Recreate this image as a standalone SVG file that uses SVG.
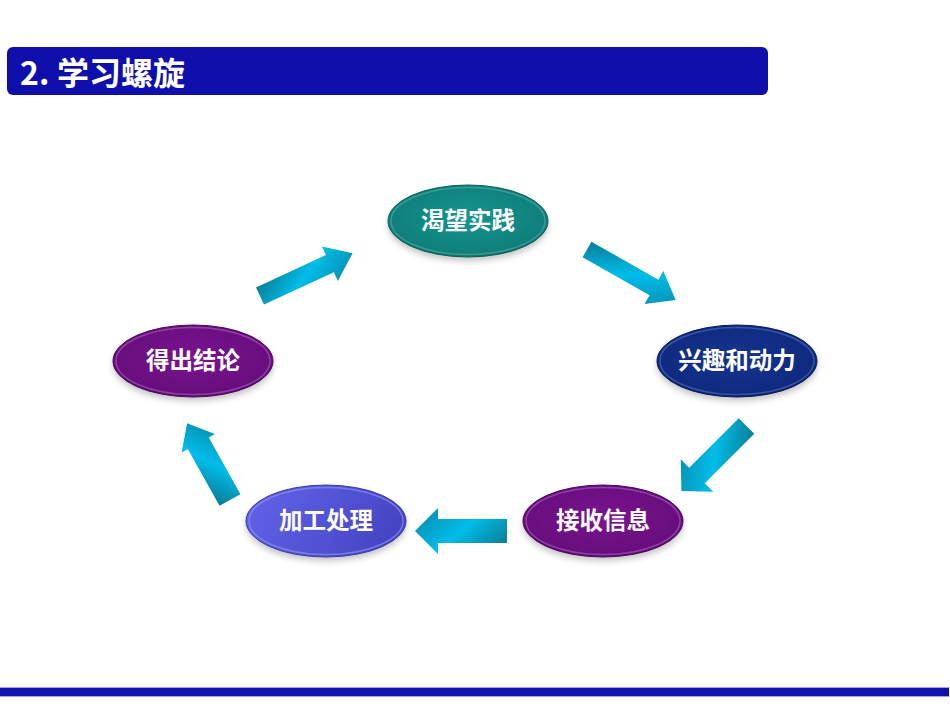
<svg xmlns="http://www.w3.org/2000/svg" width="950" height="713" viewBox="0 0 950 713">
<defs>
<style>
.lbl{font-family:"Noto Sans CJK SC","Noto Sans",sans-serif;font-weight:bold;font-size:23.5px;fill:#ffffff;text-anchor:middle}
.title{font-family:"Noto Sans CJK SC","Noto Sans",sans-serif;font-weight:bold;font-size:32px;fill:#ffffff}
.ring{fill:none;stroke-width:1.5}
.arrow{fill:url(#ag)}
.shadow{fill:#555;opacity:0.35;filter:url(#blur)}
</style>
<filter id="blur" x="-20%" y="-40%" width="140%" height="180%"><feGaussianBlur stdDeviation="3"/></filter>
<linearGradient id="ag" x1="0" y1="0.2" x2="1" y2="0.8">
<stop offset="0" stop-color="#0a7b94"/>
<stop offset="0.5" stop-color="#00bde9"/>
<stop offset="1" stop-color="#0a8db0"/>
</linearGradient>
<radialGradient id="gTeal" cx="50%" cy="45%" r="60%">
<stop offset="0" stop-color="#16958f"/>
<stop offset="0.8" stop-color="#10807b"/>
<stop offset="1" stop-color="#0b6865"/>
</radialGradient>
<radialGradient id="gNavy" cx="50%" cy="45%" r="60%">
<stop offset="0" stop-color="#16348f"/>
<stop offset="0.8" stop-color="#0f2a80"/>
<stop offset="1" stop-color="#0a1f66"/>
</radialGradient>
<radialGradient id="gPurple" cx="50%" cy="45%" r="60%">
<stop offset="0" stop-color="#7a148f"/>
<stop offset="0.8" stop-color="#680e7e"/>
<stop offset="1" stop-color="#520866"/>
</radialGradient>
<linearGradient id="gViolet" x1="0" y1="0" x2="1" y2="0.3">
<stop offset="0" stop-color="#6464ec"/>
<stop offset="1" stop-color="#4646c4"/>
</linearGradient>
</defs>
<rect width="950" height="713" fill="#ffffff"/>

<g id="header">
<rect x="7" y="47" width="761" height="48" rx="6" fill="#0f0fab"/>
<text class="title" x="20" y="85">2.<tspan x="57">学习螺旋</tspan></text>
</g>

<g id="footer">
<rect x="0" y="687" width="949" height="10" fill="#a0a0f0"/>
<rect x="0" y="688" width="949" height="8" fill="#1010aa"/>
</g>

<g id="connectors">
<path class="arrow" transform="translate(260,296) rotate(-24.8)" d="M0,-9.5 L77,-9.5 L77,-19 L102,0 L77,19 L77,9.5 L0,9.5 Z"/>
<path class="arrow" transform="translate(587,249.5) rotate(29.6)" d="M0,-9 L77,-9 L77,-19 L102,0 L77,19 L77,9 L0,9 Z"/>
<path class="arrow" transform="translate(746.5,426) rotate(135)" d="M0,-11 L70,-11 L70,-23 L92,0 L70,23 L70,11 L0,11 Z"/>
<path class="arrow" transform="translate(507,531) rotate(180)" d="M0,-12 L69,-12 L69,-23 L92,0 L69,23 L69,12 L0,12 Z"/>
<path class="arrow" transform="translate(230,500) rotate(-119.2)" d="M0,-12 L65,-12 L65,-19 L88,0 L65,19 L65,12 L0,12 Z"/>
</g>

<g id="node-kewang">
<ellipse class="shadow" cx="468" cy="225" rx="80" ry="36"/>
<ellipse cx="468" cy="221" rx="80" ry="36" fill="url(#gTeal)" stroke="#0b5f58" stroke-width="1"/>
<ellipse class="ring" cx="468" cy="221" rx="77" ry="33.5" stroke="#4fb0a8" stroke-opacity="0.6"/>
<text class="lbl" x="468" y="229">渴望实践</text>
</g>

<g id="node-xingqu">
<ellipse class="shadow" cx="737" cy="365" rx="80" ry="36"/>
<ellipse cx="737" cy="361" rx="80" ry="36" fill="url(#gNavy)" stroke="#081a55" stroke-width="1"/>
<ellipse class="ring" cx="737" cy="361" rx="77" ry="33.5" stroke="#5a70c0" stroke-opacity="0.6"/>
<text class="lbl" x="737" y="369">兴趣和动力</text>
</g>

<g id="node-jieshou">
<ellipse class="shadow" cx="603" cy="525" rx="80" ry="36"/>
<ellipse cx="603" cy="521" rx="80" ry="36" fill="url(#gPurple)" stroke="#4a075c" stroke-width="1"/>
<ellipse class="ring" cx="603" cy="521" rx="77" ry="33.5" stroke="#b060c0" stroke-opacity="0.6"/>
<text class="lbl" x="603" y="529">接收信息</text>
</g>

<g id="node-jiagong">
<ellipse class="shadow" cx="326" cy="525" rx="80" ry="36"/>
<ellipse cx="326" cy="521" rx="80" ry="36" fill="url(#gViolet)" stroke="#3a3aa8" stroke-width="1"/>
<ellipse class="ring" cx="326" cy="521" rx="77" ry="33.5" stroke="#9a9af5" stroke-opacity="0.6"/>
<text class="lbl" x="326" y="529">加工处理</text>
</g>

<g id="node-dechu">
<ellipse class="shadow" cx="193" cy="365" rx="80" ry="36"/>
<ellipse cx="193" cy="361" rx="80" ry="36" fill="url(#gPurple)" stroke="#4a075c" stroke-width="1"/>
<ellipse class="ring" cx="193" cy="361" rx="77" ry="33.5" stroke="#b060c0" stroke-opacity="0.6"/>
<text class="lbl" x="193" y="369">得出结论</text>
</g>
</svg>
